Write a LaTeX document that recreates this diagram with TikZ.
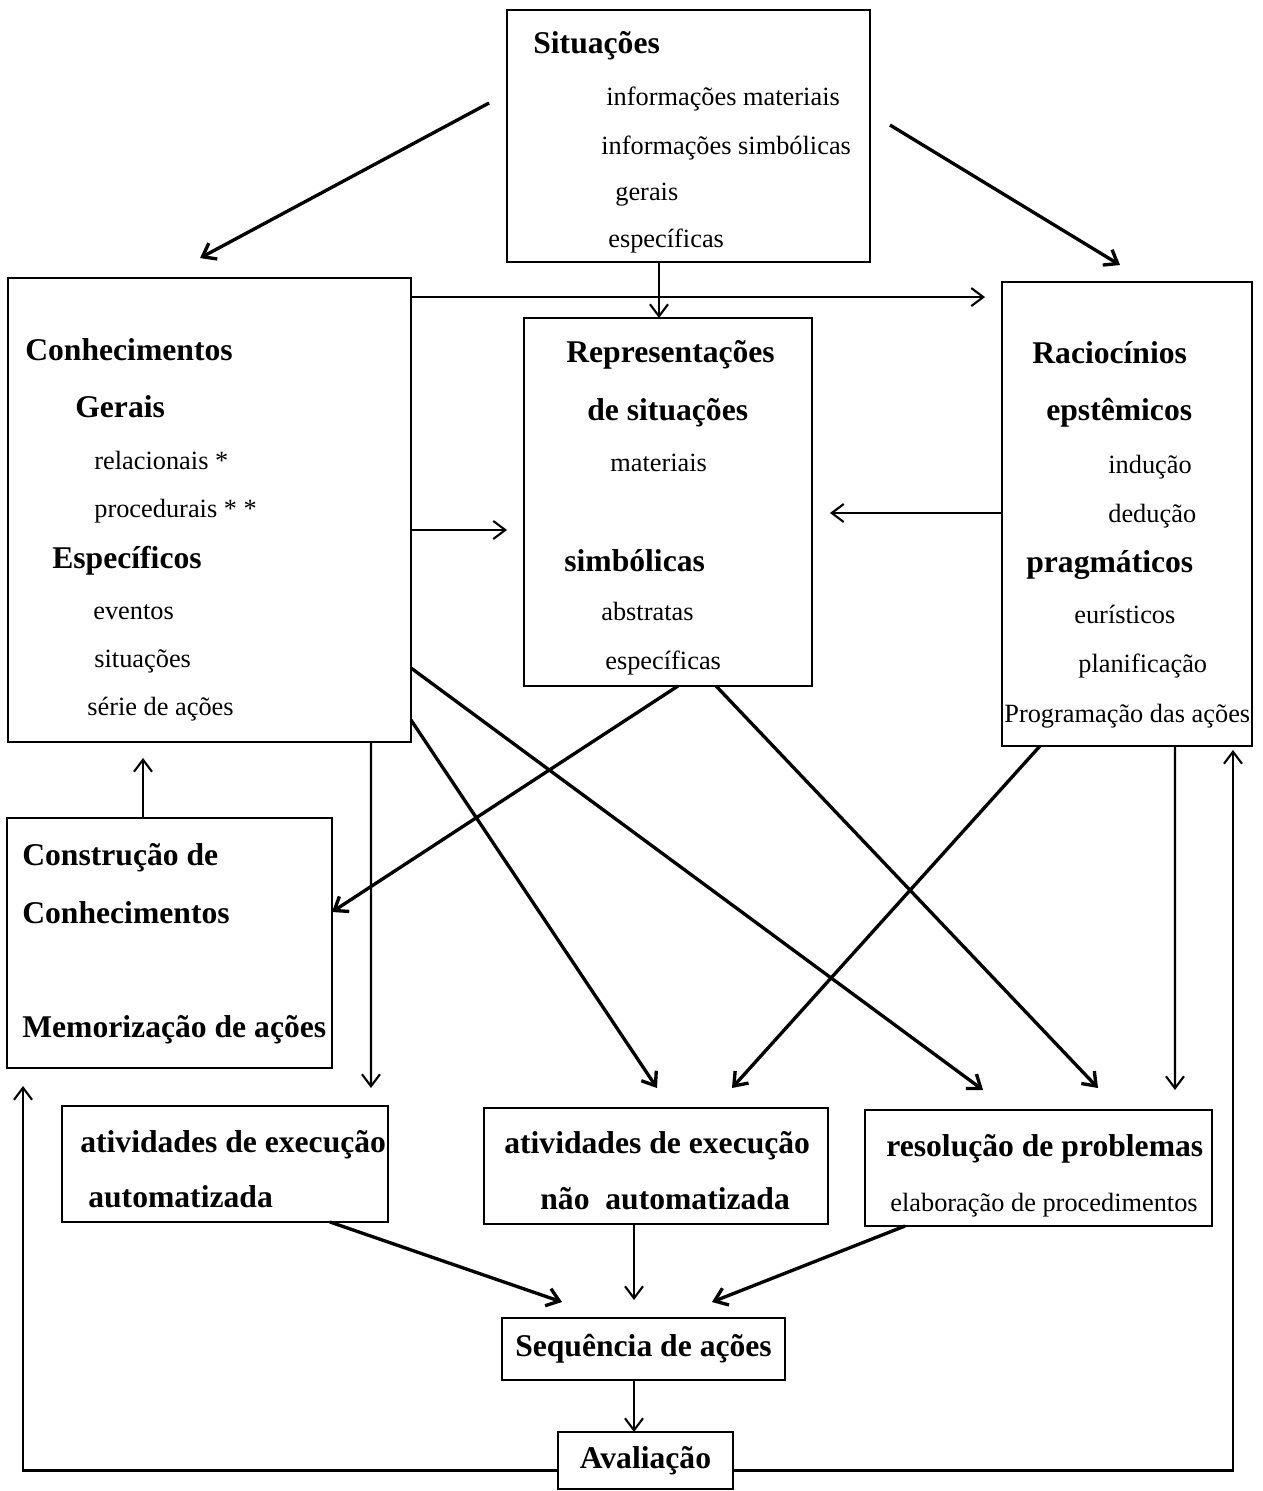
\documentclass[tikz,border=0pt]{standalone}
\usepackage{fontspec}
\setmainfont{Liberation Serif}
\usetikzlibrary{arrows.meta}

\begin{document}
\begin{tikzpicture}[
  x=0.02cm, y=-0.02cm,
  box/.style={draw,line width=1.4pt,inner sep=0pt,outer sep=0pt},
  hd/.style={anchor=base west,inner sep=0pt,font=\fontsize{18}{20}\selectfont\bfseries},
  tx/.style={anchor=base west,inner sep=0pt,font=\fontsize{15}{17}\selectfont},
  arrow/.style={-{Straight Barb[length=2.4mm,width=3.6mm]},line width=1.9pt},
  thinarrow/.style={arrow,line width=1.2pt}
]
\useasboundingbox (0,0) rectangle (1263,1491);

% boxes
\node[box,minimum width=7.26cm,minimum height=5.04cm] (sit) at (688.5,136) {};
\node[box,minimum width=8.06cm,minimum height=9.28cm] (con) at (209.5,510) {};
\node[box,minimum width=5.76cm,minimum height=7.36cm] (rep) at (668,502) {};
\node[box,minimum width=5.0cm,minimum height=9.28cm] (rac) at (1127,514) {};
\node[box,minimum width=6.5cm,minimum height=5.0cm] (cons) at (169.5,943) {};
\node[box,minimum width=6.52cm,minimum height=2.32cm] (aut) at (225,1164) {};
\node[box,minimum width=6.88cm,minimum height=2.32cm] (naut) at (656,1166) {};
\node[box,minimum width=6.94cm,minimum height=2.32cm] (res) at (1038.5,1168) {};
\node[box,minimum width=5.66cm,minimum height=1.24cm,font=\fontsize{18}{20}\selectfont\bfseries] (seq) at (643.5,1349) {Sequência de ações};
\node[box,minimum width=3.5cm,minimum height=1.14cm,font=\fontsize{18}{20}\selectfont\bfseries] (ava) at (645.5,1460.5) {Avaliação};

% Situações
\node[hd] (sit-h) at (533,53) {Situações};
\node[tx] (sit-a) at (606,105) {informações materiais};
\node[tx] (sit-b) at (601,154) {informações simbólicas};
\node[tx] (sit-c) at (615,200) {gerais};
\node[tx] (sit-d) at (608,247) {específicas};

% Conhecimentos
\node[hd] (con-h) at (25,360) {Conhecimentos};
\node[hd] (con-g) at (75,417) {Gerais};
\node[tx] (con-a) at (94,469) {relacionais *};
\node[tx] (con-b) at (94,517) {procedurais * *};
\node[hd] (con-e) at (52,568) {Específicos};
\node[tx] (con-c) at (93,619) {eventos};
\node[tx] (con-d) at (94,667) {situações};
\node[tx] (con-f) at (87,715) {série de ações};

% Representações
\node[hd] (rep-h) at (566,362) {Representações};
\node[hd] (rep-s) at (587,420) {de situações};
\node[tx] (rep-a) at (610,471) {materiais};
\node[hd] (rep-b) at (564,571) {simbólicas};
\node[tx] (rep-c) at (601,620) {abstratas};
\node[tx] (rep-d) at (605,669) {específicas};

% Raciocínios
\node[hd] (rac-h) at (1032,363) {Raciocínios};
\node[hd] (rac-e) at (1046,420) {epstêmicos};
\node[tx] (rac-a) at (1108,473) {indução};
\node[tx] (rac-b) at (1108,522) {dedução};
\node[hd] (rac-p) at (1026,572) {pragmáticos};
\node[tx] (rac-c) at (1074,623) {eurísticos};
\node[tx] (rac-d) at (1078,672) {planificação};
\node[tx] (rac-f) at (1004,722) {Programação das ações};

% Construção
\node[hd] (cons-a) at (22,865) {Construção de};
\node[hd] (cons-b) at (22,923) {Conhecimentos};
\node[hd] (cons-c) at (22,1037) {Memorização de ações};

% atividades / resolução
\node[hd] (aut-a) at (80,1152) {atividades de execução};
\node[hd] (aut-b) at (88,1207) {automatizada};
\node[hd] (naut-a) at (504,1153) {atividades de execução};
\node[hd] (naut-b) at (540,1209) {não~ automatizada};
\node[hd] (res-a) at (886,1156) {resolução de problemas};
\node[tx] (res-b) at (890,1211) {elaboração de procedimentos};

% connectors
\draw[arrow] ([shift={(-18,-33)}]sit.west) -- ([shift={(192,-20)}]con.north west);
\draw[arrow] ([shift={(20,-11)}]sit.east) -- ([shift={(118,-17)}]rac.north west);
\draw[thinarrow] ([shift={(-29.5,0)}]sit.south) -- ([shift={(-9,0)}]rep.north);
\draw[thinarrow] ([shift={(0,19)}]con.north east) -- ([shift={(-17,15)}]rac.north west);
\draw[thinarrow] ([shift={(0,20)}]con.east) -- ([shift={(-17,28)}]rep.west);
\draw[thinarrow] ([shift={(0,-1)}]rac.west) -- ([shift={(18,11)}]rep.east);
\draw[thinarrow] ([shift={(-26.5,0)}]cons.north) -- ([shift={(-66.5,16)}]con.south);
\draw[thinarrow] ([shift={(-40,0)}]con.south east) -- ([shift={(-17,-18)}]aut.north east);
\draw[arrow] ([shift={(0,-22)}]con.south east) -- ([shift={(1,-20)}]naut.north);
\draw[arrow] ([shift={(0,-74)}]con.south east) -- ([shift={(118,-20)}]res.north west);
\draw[arrow] ([shift={(10,0)}]rep.south) -- ([shift={(0,-31)}]cons.east);
\draw[arrow] ([shift={(48,0)}]rep.south) -- ([shift={(59.5,-22)}]res.north);
\draw[arrow] ([shift={(38,0)}]rac.south west) -- ([shift={(-96,-20)}]naut.north east);
\draw[thinarrow] ([shift={(48,0)}]rac.south) -- ([shift={(-37,-20)}]res.north east);
\draw[arrow] ([shift={(-58,0)}]aut.south east) -- ([shift={(60,-16)}]seq.north west);
\draw[thinarrow] ([shift={(-22,0)}]naut.south) -- ([shift={(-9.5,-18)}]seq.north);
\draw[arrow] ([shift={(40,0)}]res.south west) -- ([shift={(-73,-16)}]seq.north east);
\draw[thinarrow] ([shift={(-9.5,0)}]seq.south) -- ([shift={(-11.5,0)}]ava.north);
\draw[thinarrow] ([shift={(0,10)}]ava.west) -| ([shift={(16,18)}]cons.south west);
\draw[thinarrow] ([shift={(0,10)}]ava.east) -| ([shift={(-19,4)}]rac.south east);
\end{tikzpicture}
\end{document}
